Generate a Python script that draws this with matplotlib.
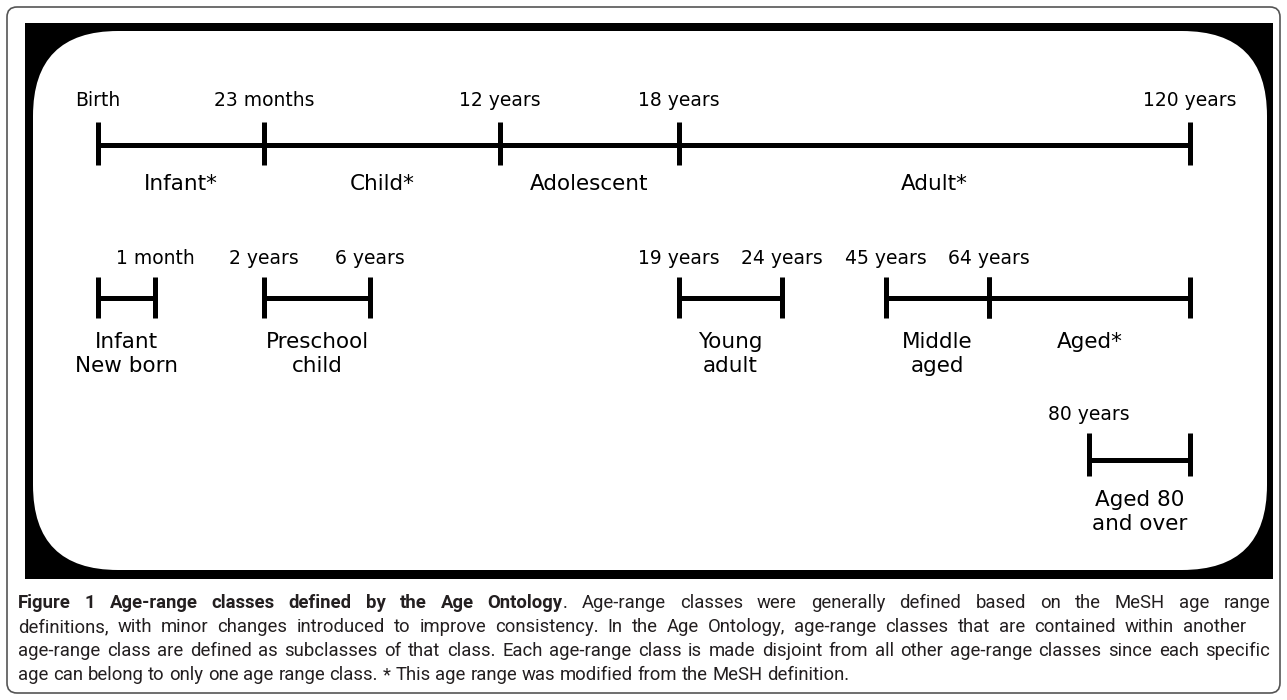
import matplotlib
matplotlib.use('Agg')
import matplotlib.pyplot as plt
from matplotlib.patches import FancyBboxPatch, Rectangle

# Schematic positions (not to scale) of the age marks on each timeline
row1_ticks = [98, 264, 500, 679, 1190]
row1_labels = ['Birth', '23 months', '12 years', '18 years', '120 years']
row1_classes = ['Infant*', 'Child*', 'Adolescent', 'Adult*']

# sub-ranges: (start, end, start label, end label, class name)
row2_segments = [
    (98, 155, '', '1 month', 'Infant\nNew born'),
    (264, 370, '2 years', '6 years', 'Preschool\nchild'),
    (679, 782, '19 years', '24 years', 'Young\nadult'),
    (886, 989, '45 years', '64 years', 'Middle\naged'),
    (989, 1190, '', '', 'Aged*'),
]
row3_segments = [
    (1089, 1190, '80 years', '', 'Aged 80\nand over'),
]

caption_lines = [
    [('Figure 1 Age-range classes defined by the Age Ontology', True),
     ('. Age-range classes were generally defined based on the MeSH age range', False)],
    [('definitions, with minor changes introduced to improve consistency. In the Age Ontology, age-range classes that are contained within another', False)],
    [('age-range class are defined as subclasses of that class. Each age-range class is made disjoint from all other age-range classes since each specific', False)],
    [('age can belong to only one age range class. * This age range was modified from the MeSH definition.', False)],
]
caption_right = [1270, 1246, 1270, None]

fig = plt.figure(figsize=(12.87, 7), dpi=100)
ax = fig.add_axes([0, 0, 1, 1])
ax.set_xlim(0, 1287)
ax.set_ylim(700, 0)
ax.axis('off')

# frames
ax.add_patch(FancyBboxPatch((7, 7), 1273, 686, boxstyle='round,pad=0,rounding_size=10',
                            fc='white', ec='#555555', lw=1.2))
ax.add_patch(Rectangle((25, 23), 1248, 556, fc='black', ec='none'))
ax.add_patch(FancyBboxPatch((33, 31), 1234, 539, boxstyle='round,pad=0,rounding_size=85',
                            fc='white', ec='none'))

lw = 3.6
tick_font = 13.5
class_font = 15.5


def draw_segment(x0, x1, y, up=21, down=21):
    ax.plot([x0, x1], [y, y], color='black', lw=lw, solid_capstyle='butt')
    for x in (x0, x1):
        ax.plot([x, x], [y - up, y + down], color='black', lw=lw, solid_capstyle='butt')


def class_label(x, y, name):
    # first line of the name always sits at the same height
    nlines = name.count('\n') + 1
    ax.text(x, y + 12 * (nlines - 1), name, ha='center', va='center', fontsize=class_font,
            linespacing=1.25)


# row 1: main timeline
y1 = 145
ax.plot([row1_ticks[0], row1_ticks[-1]], [y1, y1], color='black', lw=lw, solid_capstyle='butt')
for x, lab in zip(row1_ticks, row1_labels):
    ax.plot([x, x], [y1 - 23, y1 + 20], color='black', lw=lw, solid_capstyle='butt')
    ax.text(x, y1 - 44, lab, ha='center', va='center', fontsize=tick_font)
for a, b, lab in zip(row1_ticks[:-1], row1_ticks[1:], row1_classes):
    class_label((a + b) / 2, y1 + 39, lab)

# row 2 and row 3: sub-ranges
for segs, y, up, down in ((row2_segments, 298, 21, 20), (row3_segments, 460, 27, 16)):
    for x0, x1, l0, l1, name in segs:
        draw_segment(x0, x1, y, up, down)
        if l0:
            ax.text(x0, y - up - 19, l0, ha='center', va='center', fontsize=tick_font)
        if l1:
            ax.text(x1, y - up - 19, l1, ha='center', va='center', fontsize=tick_font)
        class_label((x0 + x1) / 2, y + down + 24, name)

# caption, justified by hand
cap_font = 13.3
cap_family = ['Roboto', 'DejaVu Sans']
renderer = fig.canvas.get_renderer()
left = 18
space = ax.text(0, 0, 'a a', fontsize=cap_font, family=cap_family).get_window_extent(renderer).width - \
    ax.text(0, 0, 'aa', fontsize=cap_font, family=cap_family).get_window_extent(renderer).width
for t in ax.texts[-2:]:
    t.remove()
for i, (parts, right) in enumerate(zip(caption_lines, caption_right)):
    y = 603 + 24 * i
    words = []
    for txt, bold in parts:
        pieces = txt.split(' ')
        for j, w in enumerate(pieces):
            if w == '':
                continue
            glue = (j == 0 and len(words) > 0)
            words.append([w, bold, glue])
    objs = []
    for w, bold, glue in words:
        t = ax.text(0, y, w, ha='left', va='center', fontsize=cap_font, family=cap_family,
                    fontweight='bold' if bold else 'normal', color='#231f20')
        objs.append(t)
    widths = [t.get_window_extent(renderer).width for t in objs]
    ngaps = sum(1 for w in words[1:] if not w[2])
    total = sum(widths)
    if right is not None and ngaps:
        gap = (right - left - total) / ngaps
    else:
        gap = space
    x = left
    for k, (t, wd) in enumerate(zip(objs, widths)):
        if k > 0 and not words[k][2]:
            x += gap
        t.set_x(x)
        x += wd

fig.savefig('out.png', dpi=100)
